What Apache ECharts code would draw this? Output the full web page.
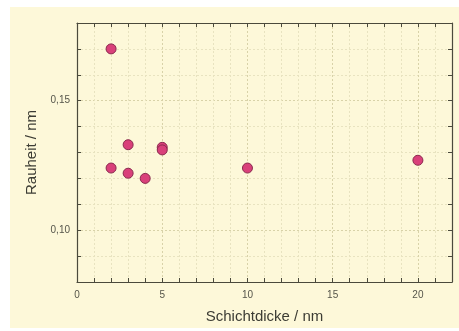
<!DOCTYPE html>
<html>
<head>
<meta charset="utf-8">
<script src="https://cdn.jsdelivr.net/npm/echarts@6/dist/echarts.min.js"></script>
<style>
  html, body { margin: 0; padding: 0; background: #fff; }
  #chart { width: 459px; height: 331px; }
</style>
</head>
<body>
<div id="chart"></div>
<script>
// Schichtdicke (nm) vs. Rauheit (nm)
const thickness = [2, 2, 3, 3, 4, 5, 5, 10, 20];
const roughness = [0.170, 0.124, 0.133, 0.122, 0.120, 0.132, 0.131, 0.124, 0.127];

const axisColor = '#4b4a3c';
const gridLight = '#e8e3c0';
const gridDark = '#d8d2a8';
const font = 'Liberation Sans, Arial, sans-serif';

const myChart = echarts.init(document.getElementById('chart'));

// mirrored axes on top / right: only line + inner ticks
const frameAxis = {
  axisLine: { show: true, onZero: false, lineStyle: { color: axisColor, width: 1.2 } },
  axisTick: { show: true, inside: true, length: 4, lineStyle: { color: axisColor } },
  axisLabel: { show: false },
  splitLine: { show: false },
};

const option = {
  animation: false,
  backgroundColor: 'transparent',
  graphic: [{
    type: 'rect',
    z: -10,
    shape: { x: 10, y: 7, width: 449, height: 321 },
    style: { fill: '#fdf8d9' },
  }],
  grid: { left: 77, top: 23, right: 7, bottom: 49 },
  xAxis: [
    {
      type: 'value',
      min: 0,
      max: 22,
      interval: 1,
      name: 'Schichtdicke / nm',
      nameLocation: 'middle',
      nameGap: 27,
      nameTextStyle: { color: '#3c3c34', fontSize: 15, fontFamily: font },
      axisLine: { show: true, onZero: false, lineStyle: { color: axisColor, width: 1.2 } },
      axisTick: { show: true, inside: true, length: 4, lineStyle: { color: axisColor } },
      axisLabel: {
        color: '#55554a',
        fontSize: 10,
        fontFamily: font,
        margin: 8,
        formatter: (v) => (v % 5 === 0 ? String(v) : ''),
      },
      splitLine: {
        show: true,
        lineStyle: { type: [2, 2], width: 1, color: [gridDark, gridLight, gridLight, gridLight, gridLight] },
      },
    },
    { type: 'value', position: 'top', min: 0, max: 22, interval: 1, ...frameAxis },
  ],
  yAxis: [
    {
      type: 'value',
      min: 0.08,
      max: 0.18,
      interval: 0.01,
      name: 'Rauheit / nm',
      nameLocation: 'middle',
      nameGap: 37,
      nameTextStyle: { color: '#3c3c34', fontSize: 15, fontFamily: font },
      axisLine: { show: true, onZero: false, lineStyle: { color: axisColor, width: 1.2 } },
      axisTick: { show: true, inside: true, length: 4, lineStyle: { color: axisColor } },
      axisLabel: {
        color: '#55554a',
        fontSize: 10,
        fontFamily: font,
        margin: 7,
        formatter: (v) => {
          const h = Math.round(v * 100);
          return h % 5 === 0 ? (h / 100).toFixed(2).replace('.', ',') : '';
        },
      },
      splitLine: {
        show: true,
        lineStyle: { type: [2, 2], width: 1, color: [gridLight, gridLight, gridDark, gridLight, gridLight] },
      },
    },
    { type: 'value', position: 'right', min: 0.08, max: 0.18, interval: 0.01, ...frameAxis },
  ],
  series: [{
    type: 'scatter',
    xAxisIndex: 0,
    yAxisIndex: 0,
    symbol: 'circle',
    symbolSize: 10,
    itemStyle: { color: '#d9407a', borderColor: '#8a2a4e', borderWidth: 1, opacity: 1 },
    data: thickness.map((x, i) => [x, roughness[i]]),
  }],
};

myChart.setOption(option);
</script>
</body>
</html>
